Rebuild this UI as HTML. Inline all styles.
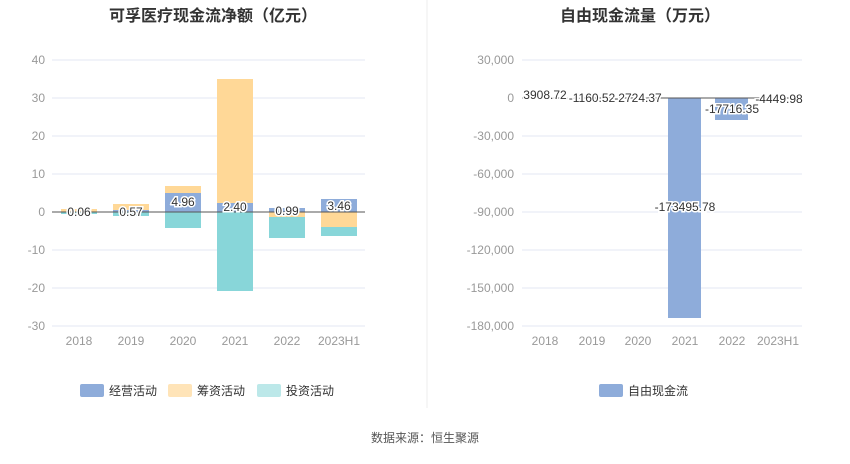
<!DOCTYPE html>
<html><head><meta charset="utf-8"><style>
body{margin:0;background:#fff;font-family:"Liberation Sans","Noto Sans CJK SC",sans-serif;}
</style></head><body>
<svg width="850" height="459" xmlns="http://www.w3.org/2000/svg" font-family="Liberation Sans, Noto Sans CJK SC, sans-serif">
<text x="213" y="21" text-anchor="middle" font-size="16" font-weight="bold" fill="#333">可孚医疗现金流净额（亿元）</text>
<text x="640" y="21" text-anchor="middle" font-size="16" font-weight="bold" fill="#333">自由现金流量（万元）</text>
<line x1="427" y1="0" x2="427" y2="408" stroke="#eee"/>
<g stroke="#e3e7f3">
<line x1="52" y1="60" x2="365" y2="60"/><line x1="52" y1="98" x2="365" y2="98"/><line x1="52" y1="136" x2="365" y2="136"/><line x1="52" y1="174" x2="365" y2="174"/><line x1="52" y1="250" x2="365" y2="250"/><line x1="52" y1="288" x2="365" y2="288"/><line x1="52" y1="326" x2="365" y2="326"/>
<line x1="522" y1="60" x2="802" y2="60"/><line x1="522" y1="136" x2="802" y2="136"/><line x1="522" y1="174" x2="802" y2="174"/><line x1="522" y1="212" x2="802" y2="212"/><line x1="522" y1="250" x2="802" y2="250"/><line x1="522" y1="288" x2="802" y2="288"/><line x1="522" y1="326" x2="802" y2="326"/>
</g>
<g font-size="12" fill="#999" text-anchor="end">
<text x="45" y="64">40</text><text x="45" y="102">30</text><text x="45" y="140">20</text><text x="45" y="178">10</text><text x="45" y="216">0</text><text x="45" y="254">-10</text><text x="45" y="292">-20</text><text x="45" y="330">-30</text>
<text x="514" y="64">30,000</text><text x="514" y="102">0</text><text x="514" y="140">-30,000</text><text x="514" y="178">-60,000</text><text x="514" y="216">-90,000</text><text x="514" y="254">-120,000</text><text x="514" y="292">-150,000</text><text x="514" y="330">-180,000</text>
</g>
<g font-size="12" fill="#999" text-anchor="middle">
<text x="79" y="345">2018</text><text x="131" y="345">2019</text><text x="183" y="345">2020</text><text x="235" y="345">2021</text><text x="287" y="345">2022</text><text x="339" y="345">2023H1</text>
<text x="545" y="345">2018</text><text x="592" y="345">2019</text><text x="638" y="345">2020</text><text x="685" y="345">2021</text><text x="732" y="345">2022</text><text x="778" y="345">2023H1</text>
</g>
<!-- left bars -->
<rect x="61" y="209" width="36" height="3" fill="#ffd897"/><rect x="61" y="212" width="36" height="2" fill="#88d6d9"/>
<rect x="113" y="204" width="36" height="6" fill="#ffd897"/><rect x="113" y="210" width="36" height="2" fill="#8eacda"/><rect x="113" y="212" width="36" height="4" fill="#88d6d9"/>
<rect x="165" y="186" width="36" height="7" fill="#ffd897"/><rect x="165" y="193" width="36" height="19" fill="#8eacda"/><rect x="165" y="212" width="36" height="16" fill="#88d6d9"/>
<rect x="217" y="79" width="36" height="124" fill="#ffd897"/><rect x="217" y="203" width="36" height="9" fill="#8eacda"/><rect x="217" y="212" width="36" height="79" fill="#88d6d9"/>
<rect x="269" y="208" width="36" height="4" fill="#8eacda"/><rect x="269" y="212" width="36" height="5" fill="#ffd897"/><rect x="269" y="217" width="36" height="21" fill="#88d6d9"/>
<rect x="321" y="199" width="36" height="13" fill="#8eacda"/><rect x="321" y="212" width="36" height="15" fill="#ffd897"/><rect x="321" y="227" width="36" height="9" fill="#88d6d9"/>
<line x1="52" y1="212" x2="365" y2="212" stroke="#555"/>
<g font-size="12" fill="#333" text-anchor="middle" stroke="#fff" stroke-width="3" paint-order="stroke">
<text x="79" y="216">0.06</text><text x="131" y="216">0.57</text><text x="183" y="206">4.96</text><text x="235" y="211">2.40</text><text x="287" y="215">0.99</text><text x="339" y="210">3.46</text>
</g>
<!-- right bars -->
<rect x="668" y="98" width="33" height="220" fill="#8eacda"/>
<rect x="715" y="98" width="33" height="22" fill="#8eacda"/>
<line x1="522" y1="98" x2="802" y2="98" stroke="#555"/>
<g font-size="12" fill="#333" text-anchor="middle" stroke="#fff" stroke-width="3" paint-order="stroke">
<text x="545" y="99">3908.72</text><text x="592" y="102">-1160.52</text><text x="638" y="102">-2724.37</text><text x="685" y="211">-173495.78</text><text x="732" y="113">-17716.35</text><text x="779" y="103">-4449.98</text>
</g>
<!-- legends -->
<rect x="80" y="384" width="24" height="13" rx="2" fill="#8eacda"/><text x="109" y="395" font-size="12" fill="#333">经营活动</text>
<rect x="168" y="384" width="24" height="13" rx="2" fill="#ffe4b8"/><text x="197" y="395" font-size="12" fill="#333">筹资活动</text>
<rect x="257" y="384" width="24" height="13" rx="2" fill="#bce8e9"/><text x="286" y="395" font-size="12" fill="#333">投资活动</text>
<rect x="599" y="384" width="24" height="13" rx="2" fill="#8eacda"/><text x="628" y="395" font-size="12" fill="#333">自由现金流</text>
<text x="425" y="442" text-anchor="middle" font-size="12" fill="#555">数据来源：恒生聚源</text>
</svg>
</body></html>
